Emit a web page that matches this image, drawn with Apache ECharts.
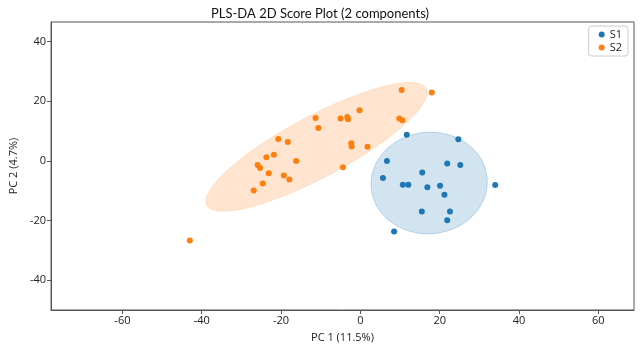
<!DOCTYPE html>
<html>
<head>
<meta charset="utf-8">
<script src="https://cdn.jsdelivr.net/npm/echarts@6/dist/echarts.min.js"></script>
<style>
    html, body {margin: 0; padding: 0; background: #fff;}
    #plsda {width: 640px; height: 348px;}
</style>
</head>
<body>
<div id="plsda"></div>
<script>
// score values
var s1_pc1 = [11.7, 24.7, 6.7, 21.9, 25.2, 15.6, 5.7, 10.7, 12.1, 16.9, 20.1, 34.0, 21.2, 15.5, 22.6, 21.9, 8.5];
var s1_pc2 = [8.7, 7.2, -0.1, -0.9, -1.4, -3.9, -5.8, -8.0, -8.0, -8.9, -8.4, -8.1, -11.4, -17.0, -17.0, -19.9, -23.7];

var s2_pc1 = [10.4, 18.0, -0.2, -11.3, -5.0, -3.3, -3.1, 9.8, 10.6, -10.6, -20.7, -18.3, -2.3, -2.2, 1.8,
    -23.7, -21.8, -16.2, -25.9, -25.3, -4.4, -23.1, -19.3, -17.9, -24.6, -26.9, -43.0];
var s2_pc2 = [23.7, 22.9, 16.9, 14.3, 14.2, 14.7, 13.9, 14.2, 13.6, 11.0, 7.3, 6.3, 5.9, 4.8, 4.7,
    1.2, 2.0, -0.1, -1.4, -2.4, -2.2, -4.2, -4.9, -6.3, -7.6, -10.0, -26.7];

var xTicks = [-60, -40, -20, 0, 20, 40, 60];
var yTicks = [-40, -20, 0, 20, 40];

var colors = ['#1f77b4', '#ff7f0e'];

function pairs(xs, ys) {
    var out = [];
    for (var i = 0; i < xs.length; i++) out.push([xs[i], ys[i]]);
    return out;
}

// n_std confidence ellipse from the covariance of the scores
function confEllipse(xs, ys, nStd) {
    var n = xs.length, mx = 0, my = 0;
    for (var i = 0; i < n; i++) { mx += xs[i]; my += ys[i]; }
    mx /= n; my /= n;
    var sxx = 0, syy = 0, sxy = 0;
    for (var i = 0; i < n; i++) {
        sxx += (xs[i] - mx) * (xs[i] - mx);
        syy += (ys[i] - my) * (ys[i] - my);
        sxy += (xs[i] - mx) * (ys[i] - my);
    }
    sxx /= (n - 1); syy /= (n - 1); sxy /= (n - 1);
    var l11 = Math.sqrt(sxx), l21 = sxy / l11, l22 = Math.sqrt(syy - l21 * l21);
    var pts = [];
    for (var k = 0; k < 120; k++) {
        var t = 2 * Math.PI * k / 120, u = Math.cos(t), v = Math.sin(t);
        pts.push([mx + nStd * l11 * u, my + nStd * (l21 * u + l22 * v)]);
    }
    return pts;
}

function ellipseSeries(pts, fill, stroke) {
    return {
        type: 'custom',
        silent: true,
        z: 1,
        data: [0],
        renderItem: function (params, api) {
            var poly = pts.map(function (p) { return api.coord(p); });
            return {
                type: 'polygon',
                shape: {points: poly},
                style: {fill: fill, stroke: stroke, lineWidth: 1}
            };
        }
    };
}

var chart = echarts.init(document.getElementById('plsda'));

option = {
    backgroundColor: '#fff',
    animation: false,
    textStyle: {fontFamily: 'Open Sans', color: '#222'},
    title: {
        text: 'PLS-DA 2D Score Plot (2 components)',
        left: 'center',
        top: 2,
        textStyle: {fontSize: 13, fontWeight: 'normal', color: '#111', fontFamily: 'Lato'}
    },
    grid: {
        left: 49, right: 6, top: 22, bottom: 36,
        show: true, borderColor: '#555', borderWidth: 1
    },
    legend: {
        data: ['S1', 'S2'],
        orient: 'vertical',
        right: 12, top: 26,
        icon: 'circle',
        itemWidth: 6, itemHeight: 6,
        itemGap: 2,
        padding: [3, 6, 3, 10],
        borderColor: '#ccc', borderWidth: 1, borderRadius: 3,
        textStyle: {fontSize: 11, color: '#222'}
    },
    xAxis: {
        type: 'value',
        min: -78, max: 69,
        name: 'PC 1 (11.5%)',
        nameLocation: 'middle',
        nameGap: 22,
        nameTextStyle: {fontSize: 11, color: '#222'},
        axisLine: {show: true, onZero: false, lineStyle: {color: '#555'}},
        axisTick: {show: true, length: 4, customValues: xTicks, lineStyle: {color: '#555'}},
        axisLabel: {customValues: xTicks, fontSize: 11, color: '#222', margin: 5},
        splitLine: {show: false}
    },
    yAxis: {
        type: 'value',
        min: -50, max: 46.5,
        name: 'PC 2 (4.7%)',
        nameLocation: 'middle',
        nameGap: 32,
        nameTextStyle: {fontSize: 11, color: '#222'},
        axisLine: {show: true, onZero: false, lineStyle: {color: '#555'}},
        axisTick: {show: true, length: 4, customValues: yTicks, lineStyle: {color: '#555'}},
        axisLabel: {customValues: yTicks, fontSize: 11, color: '#222', margin: 5},
        splitLine: {show: false}
    },
    series: [
        ellipseSeries(confEllipse(s1_pc1, s1_pc2, 1.93), 'rgba(31,119,180,0.2)', 'rgba(31,119,180,0.25)'),
        ellipseSeries(confEllipse(s2_pc1, s2_pc2, 1.93), 'rgba(255,127,14,0.2)', 'rgba(255,127,14,0.15)'),
        {
            name: 'S1', type: 'scatter', z: 3,
            symbolSize: 6,
            itemStyle: {color: colors[0], opacity: 1},
            data: pairs(s1_pc1, s1_pc2)
        },
        {
            name: 'S2', type: 'scatter', z: 3,
            symbolSize: 6,
            itemStyle: {color: colors[1], opacity: 1},
            data: pairs(s2_pc1, s2_pc2)
        }
    ]
};

chart.setOption(option);
</script>
</body>
</html>
